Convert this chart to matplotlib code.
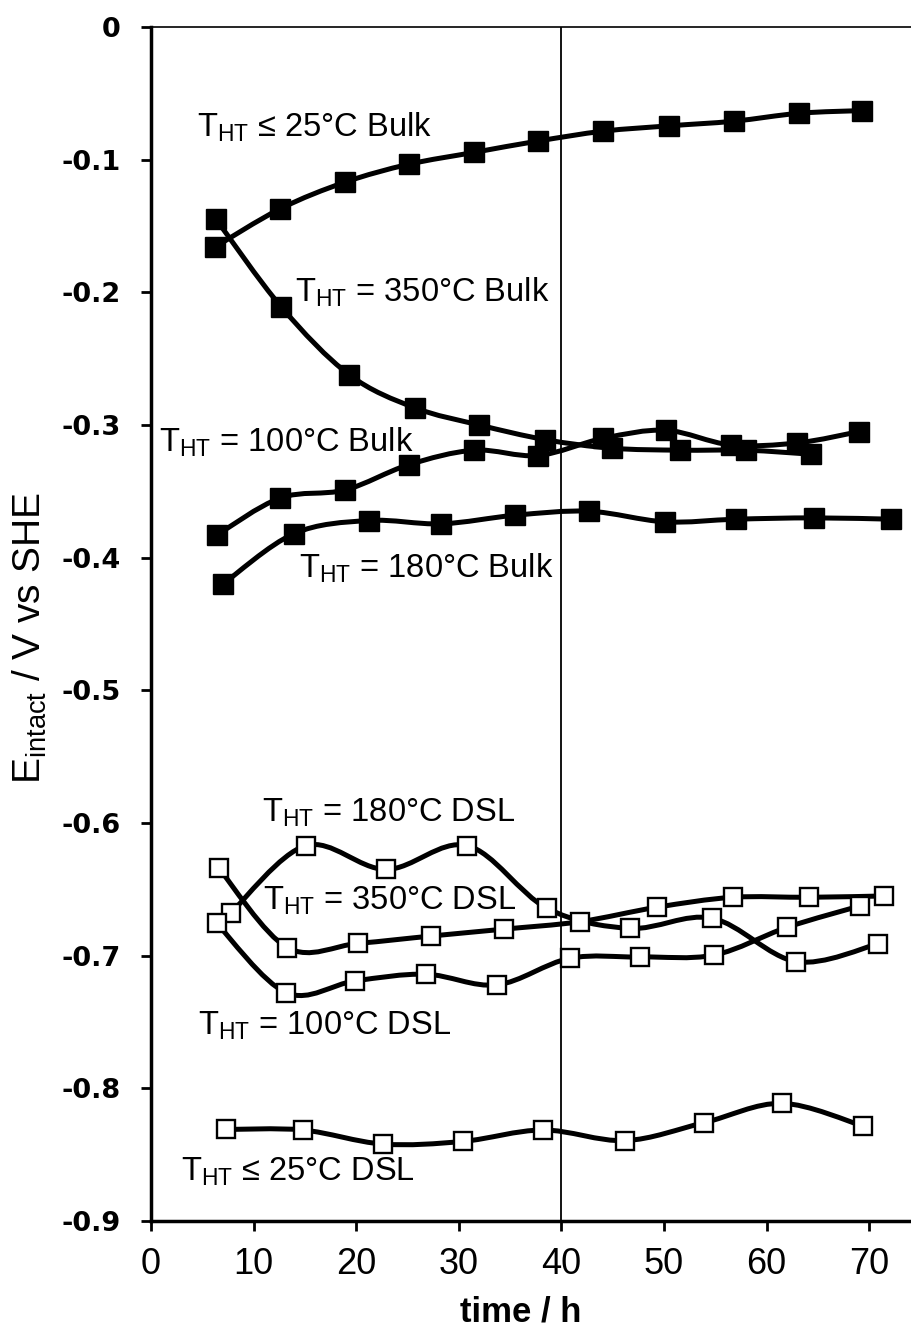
import numpy as np
import matplotlib
matplotlib.use('Agg')
import matplotlib.pyplot as plt
from matplotlib.path import Path
from matplotlib.patches import PathPatch

plt.rcParams['font.family'] = ['Liberation Sans', 'DejaVu Sans']
plt.rcParams['mathtext.fontset'] = 'custom'
plt.rcParams['mathtext.rm'] = 'Liberation Sans'
plt.rcParams['mathtext.it'] = 'Liberation Sans:italic'
plt.rcParams['mathtext.bf'] = 'Liberation Sans:bold'
plt.rcParams['axes.unicode_minus'] = False

# Bulk series (filled squares)
t_bulk25 = [6.2, 12.6, 18.9, 25.1, 31.5, 37.7, 44.1, 50.5, 56.8, 63.2, 69.3]
e_bulk25 = [-0.166, -0.137, -0.117, -0.1035, -0.0945, -0.086, -0.0785, -0.0745, -0.071, -0.065, -0.063]

t_bulk350 = [6.3, 12.7, 19.3, 25.7, 32.0, 38.4, 44.9, 51.6, 58.0, 64.3]
e_bulk350 = [-0.1445, -0.211, -0.262, -0.287, -0.300, -0.311, -0.3175, -0.319, -0.319, -0.322]

t_bulk100 = [6.4, 12.6, 18.9, 25.1, 31.5, 37.7, 44.1, 50.2, 56.5, 63.0, 69.0]
e_bulk100 = [-0.383, -0.355, -0.349, -0.330, -0.319, -0.323, -0.310, -0.304, -0.315, -0.3135, -0.305]

t_bulk180 = [7.0, 13.9, 21.2, 28.3, 35.5, 42.7, 50.1, 57.0, 64.6, 72.1]
e_bulk180 = [-0.420, -0.382, -0.372, -0.3745, -0.368, -0.365, -0.373, -0.371, -0.370, -0.371]

# DSL series (open squares)
t_dsl180 = [7.8, 15.1, 22.9, 30.8, 38.6, 46.7, 54.7, 62.9, 70.9]
e_dsl180 = [-0.6676, -0.617, -0.635, -0.617, -0.6643, -0.6794, -0.6718, -0.7045, -0.691]

t_dsl350 = [6.6, 13.3, 20.2, 27.3, 34.4, 41.8, 49.3, 56.7, 64.1, 71.4]
e_dsl350 = [-0.634, -0.694, -0.6907, -0.6852, -0.680, -0.6744, -0.6635, -0.656, -0.656, -0.655]

t_dsl100 = [6.4, 13.2, 19.9, 26.8, 33.7, 40.8, 47.7, 54.9, 62.0, 69.1]
e_dsl100 = [-0.6756, -0.728, -0.719, -0.714, -0.722, -0.702, -0.701, -0.6995, -0.6786, -0.6625]

t_dsl25 = [7.3, 14.8, 22.6, 30.4, 38.2, 46.2, 53.9, 61.5, 69.4]
e_dsl25 = [-0.831, -0.8314, -0.842, -0.840, -0.8314, -0.8394, -0.8259, -0.8113, -0.8284]

yticks = [0, -0.1, -0.2, -0.3, -0.4, -0.5, -0.6, -0.7, -0.8, -0.9]
ytick_labels = ['0', '-0.1', '-0.2', '-0.3', '-0.4', '-0.5', '-0.6', '-0.7', '-0.8', '-0.9']
xticks = [0, 10, 20, 30, 40, 50, 60, 70]

labels = [
    (r'T$_{\mathrm{HT}}$ ≤ 25°C Bulk', 4.5, -0.0827),
    (r'T$_{\mathrm{HT}}$ = 350°C Bulk', 14.05, -0.2071),
    (r'T$_{\mathrm{HT}}$ = 100°C Bulk', 0.8, -0.3201),
    (r'T$_{\mathrm{HT}}$ = 180°C Bulk', 14.4, -0.4153),
    (r'T$_{\mathrm{HT}}$ = 180°C DSL', 10.8, -0.5992),
    (r'T$_{\mathrm{HT}}$ = 350°C DSL', 10.9, -0.6656),
    (r'T$_{\mathrm{HT}}$ = 100°C DSL', 4.6, -0.7598),
    (r'T$_{\mathrm{HT}}$ ≤ 25°C DSL', 2.9, -0.8698),
]


def smooth_path(x, y):
    # Catmull-Rom segments written as cubic Bezier curves (spreadsheet-style smoothing)
    pts = np.column_stack([x, y]).astype(float)
    ext = np.vstack([pts[0], pts, pts[-1]])
    verts = [pts[0]]
    codes = [Path.MOVETO]
    for i in range(1, len(ext) - 2):
        p0, p1, p2, p3 = ext[i - 1], ext[i], ext[i + 1], ext[i + 2]
        c1 = p1 + (p2 - p0) / 6.0
        c2 = p2 - (p3 - p1) / 6.0
        verts += [c1, c2, p2]
        codes += [Path.CURVE4] * 3
    return Path(verts, codes)


fig = plt.figure(figsize=(9.12, 13.32), dpi=100)
ax = fig.add_axes([151 / 912, 1 - 1221 / 1332, 1 - 151 / 912, 1194 / 1332])

bulk = [(t_bulk25, e_bulk25), (t_bulk350, e_bulk350), (t_bulk100, e_bulk100), (t_bulk180, e_bulk180)]
dsl = [(t_dsl180, e_dsl180), (t_dsl350, e_dsl350), (t_dsl100, e_dsl100), (t_dsl25, e_dsl25)]

for t, e in bulk + dsl:
    ax.add_patch(PathPatch(smooth_path(t, e), facecolor='none', edgecolor='black',
                           lw=3.6, zorder=2, capstyle='round'))
for t, e in bulk:
    ax.plot(t, e, linestyle='none', marker='s', markersize=15, color='black', zorder=3)
for t, e in dsl:
    ax.plot(t, e, linestyle='none', marker='s', markersize=13, markerfacecolor='white',
            markeredgecolor='black', markeredgewidth=1.7, zorder=3)

ax.axvline(40, color='black', lw=1.3, zorder=1)

for txt, x, y in labels:
    ax.text(x, y, txt, fontsize=23.5, ha='left', va='baseline', zorder=4)

ax.set_xlim(0, 74.17)
ax.set_ylim(-0.9, 0)
ax.set_xticks(xticks)
ax.set_xticklabels([str(v) for v in xticks], fontsize=26)
ax.set_yticks(yticks)
ax.set_yticklabels(ytick_labels, fontsize=19.5, fontweight='bold', family='DejaVu Sans')
ax.tick_params(axis='x', direction='out', length=7, width=2, pad=12)
ax.tick_params(axis='y', direction='out', length=7, width=2, pad=15)

ax.spines['right'].set_visible(False)
ax.spines['left'].set_linewidth(2.5)
ax.spines['bottom'].set_linewidth(2.5)
ax.spines['top'].set_linewidth(1.2)

ax.set_xlabel('time / h', fontsize=25, fontweight='bold', va='center')
ax.xaxis.set_label_coords((521 - 151) / 761, (1221 - 1312) / 1194)
ax.set_ylabel(r'E$_{\mathrm{intact}}$ / V vs SHE', fontsize=28, va='center')
ax.yaxis.set_label_coords((30 - 151) / 761, (1221 - 638) / 1194)

fig.savefig('out.png', dpi=100)
